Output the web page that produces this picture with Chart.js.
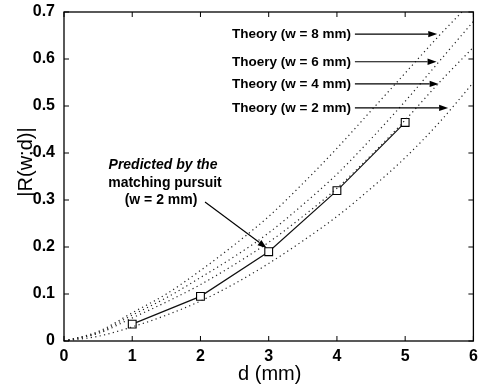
<!DOCTYPE html>
<html>
<head>
<meta charset="utf-8">
<script src="https://cdn.jsdelivr.net/npm/chart.js@4.4.1/dist/chart.umd.min.js"></script>
<style>
  html, body { margin: 0; padding: 0; background: #fff; }
  #wrap { width: 480px; height: 387px; }
</style>
</head>
<body>
<div id="wrap"><canvas id="chart"></canvas></div>
<script>
// Data
const dTheory = [0, 0.5, 1, 1.5, 2, 2.5, 3, 3.5, 4, 4.5, 5, 5.5, 6];
const theoryW8 = [0, 0.02, 0.06, 0.10, 0.15, 0.205, 0.265, 0.335, 0.41, 0.49, 0.57, 0.65, 0.725];
const theoryW6 = [0, 0.018, 0.055, 0.092, 0.135, 0.18, 0.23, 0.29, 0.355, 0.43, 0.51, 0.595, 0.68];
const theoryW4 = [0, 0.016, 0.049, 0.083, 0.12, 0.163, 0.21, 0.265, 0.325, 0.395, 0.47, 0.55, 0.625];
const theoryW2 = [0, 0.01, 0.03, 0.055, 0.085, 0.122, 0.165, 0.213, 0.265, 0.325, 0.39, 0.465, 0.55];

const dPursuit = [1, 2, 3, 4, 5];
const pursuitW2 = [0.036, 0.095, 0.19, 0.32, 0.465];

const theoryLabels = ['Theory (w = 8 mm)', 'Thoery (w = 6 mm)', 'Theory (w = 4 mm)', 'Theory (w = 2 mm)'];
// where each label's arrow lands on its curve (d, |R|)
const theoryArrowTips = [[5.47, 0.653], [5.46, 0.594], [5.49, 0.547], [5.63, 0.496]];
const pursuitLabel = ['Predicted by the', 'matching pursuit', '(w = 2 mm)'];

const xLabel = 'd (mm)';
const yLabel = '|R(w;d)|';

const FONT = "'Liberation Sans', Arial, Helvetica, sans-serif";

function toPoints(xs, ys) {
    return xs.map((x, i) => ({ x: x, y: ys[i] }));
}

function theoryDataset(ys) {
    return {
        data: toPoints(dTheory, ys),
        borderColor: '#222',
        borderWidth: 1.2,
        borderDash: [1.2, 3.3],
        pointRadius: 0,
        cubicInterpolationMode: 'monotone',
        fill: false
    };
}

// Draws the box, inward ticks, axis titles and the arrow annotations
const decorPlugin = {
    id: 'decor',
    afterDraw(chart) {
        const ctx = chart.ctx;
        const a = chart.chartArea;
        const xs = chart.scales.x;
        const ys = chart.scales.y;
        ctx.save();

        // frame
        ctx.strokeStyle = '#000';
        ctx.lineWidth = 1.3;
        ctx.strokeRect(a.left, a.top, a.right - a.left, a.bottom - a.top);

        // inward ticks on all sides
        ctx.lineWidth = 1;
        ctx.beginPath();
        xs.ticks.forEach(t => {
            const px = xs.getPixelForValue(t.value);
            ctx.moveTo(px, a.bottom); ctx.lineTo(px, a.bottom - 5);
            ctx.moveTo(px, a.top); ctx.lineTo(px, a.top + 5);
        });
        ys.ticks.forEach(t => {
            const py = ys.getPixelForValue(t.value);
            ctx.moveTo(a.left, py); ctx.lineTo(a.left + 5, py);
            ctx.moveTo(a.right, py); ctx.lineTo(a.right - 5, py);
        });
        ctx.stroke();

        // axis titles
        ctx.fillStyle = '#000';
        ctx.font = '20px ' + FONT;
        ctx.textAlign = 'center';
        ctx.textBaseline = 'middle';
        ctx.fillText(xLabel, (a.left + a.right) / 2 + 1, 374);
        ctx.save();
        ctx.translate(26, 162);
        ctx.rotate(-Math.PI / 2);
        ctx.fillText(yLabel, 0, 0);
        ctx.restore();

        // theory labels with arrows
        ctx.font = 'bold 13.5px ' + FONT;
        ctx.textAlign = 'left';
        theoryLabels.forEach((lab, i) => {
            const tip = theoryArrowTips[i];
            const tx = xs.getPixelForValue(tip[0]);
            const ty = ys.getPixelForValue(tip[1]);
            ctx.fillText(lab, 232, ty);
            const start = 232 + ctx.measureText(lab).width + 4;
            drawArrow(ctx, start, ty, tx, ty);
        });

        // matching pursuit label
        ctx.textAlign = 'center';
        ctx.font = 'italic bold 14px ' + FONT;
        ctx.fillText(pursuitLabel[0], 163, 165);
        ctx.font = 'bold 14px ' + FONT;
        ctx.fillText(pursuitLabel[1], 165, 183);
        ctx.fillText(pursuitLabel[2], 161, 200);
        drawArrow(ctx, 205, 202,
            xs.getPixelForValue(2.97), ys.getPixelForValue(0.198));

        ctx.restore();
    }
};

function drawArrow(ctx, x1, y1, x2, y2) {
    const ang = Math.atan2(y2 - y1, x2 - x1);
    const len = 9, half = 3.2;
    ctx.strokeStyle = '#000';
    ctx.lineWidth = 1.1;
    ctx.beginPath();
    ctx.moveTo(x1, y1);
    ctx.lineTo(x2 - len * Math.cos(ang), y2 - len * Math.sin(ang));
    ctx.stroke();
    ctx.beginPath();
    ctx.moveTo(x2, y2);
    ctx.lineTo(x2 - len * Math.cos(ang) + half * Math.sin(ang), y2 - len * Math.sin(ang) - half * Math.cos(ang));
    ctx.lineTo(x2 - len * Math.cos(ang) - half * Math.sin(ang), y2 - len * Math.sin(ang) + half * Math.cos(ang));
    ctx.closePath();
    ctx.fillStyle = '#000';
    ctx.fill();
}

const chart = new Chart(document.getElementById('chart'), {
    type: 'line',
    data: {
        datasets: [
            theoryDataset(theoryW8),
            theoryDataset(theoryW6),
            theoryDataset(theoryW4),
            theoryDataset(theoryW2),
            {
                data: toPoints(dPursuit, pursuitW2),
                borderColor: '#111',
                borderWidth: 1.2,
                pointStyle: 'rect',
                pointRadius: 5.5,
                pointBackgroundColor: '#fff',
                pointBorderColor: '#000',
                pointBorderWidth: 1.1,
                tension: 0,
                fill: false
            }
        ]
    },
    options: {
        responsive: true,
        maintainAspectRatio: false,
        animation: false,
        layout: { padding: { top: 12, right: 5, left: 0, bottom: 0 } },
        plugins: {
            legend: { display: false },
            tooltip: { enabled: false }
        },
        scales: {
            x: {
                type: 'linear',
                min: 0,
                max: 6,
                ticks: { stepSize: 1, color: '#000', padding: -2, font: { size: 16, weight: 'bold', family: FONT } },
                grid: { display: false },
                border: { display: false },
                afterFit(s) { s.height = 46; }
            },
            y: {
                min: 0,
                max: 0.7,
                ticks: {
                    stepSize: 0.1,
                    color: '#000',
                    padding: 1,
                    font: { size: 16, weight: 'bold', family: FONT },
                    callback: v => (v === 0 ? '0' : v.toFixed(1))
                },
                grid: { display: false },
                border: { display: false },
                afterFit(s) { s.width = 64; }
            }
        }
    },
    plugins: [decorPlugin]
});
</script>
</body>
</html>
